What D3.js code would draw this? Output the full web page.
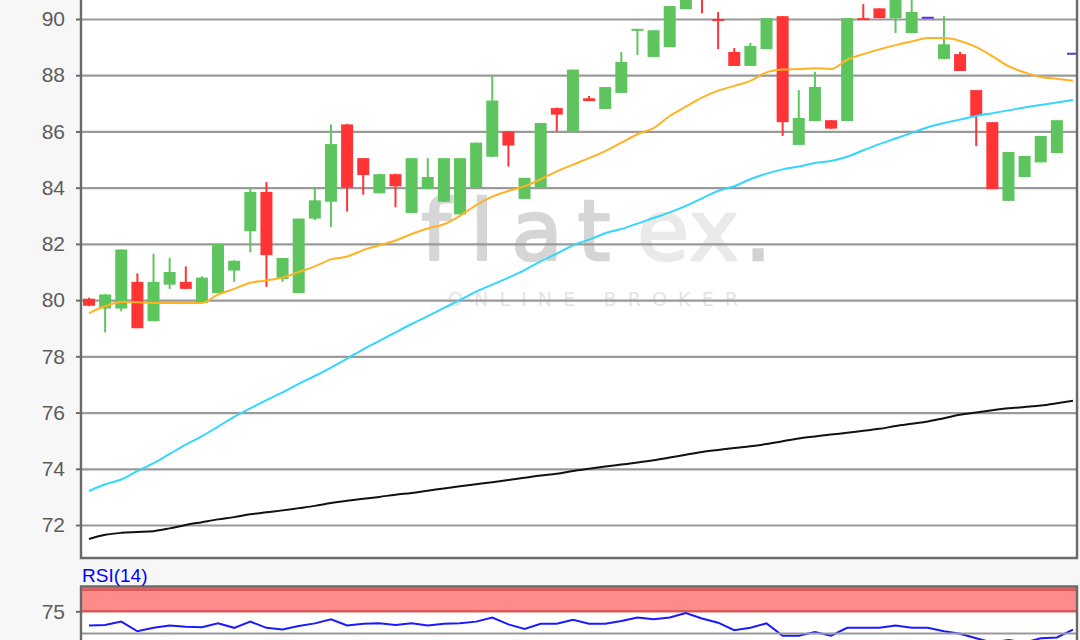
<!DOCTYPE html>
<html><head><meta charset="utf-8">
<script src="https://cdn.jsdelivr.net/npm/d3@7"></script>
<style>html,body{margin:0;padding:0;background:#f7f7f7;} svg{display:block;}</style>
</head><body>
<svg id="c" width="1080" height="640"></svg>
<script>
// ---- data ----
const opens  = [80.05,79.7,79.7,80.65,79.25,80.55,80.65,79.9,80.25,81.05,82.45,83.85,80.75,80.25,82.9,83.5,86.25,85.05,83.8,84.48,83.1,83.95,83.5,83.05,84.0,85.1,86.0,83.6,84.0,86.83,86.0,87.18,86.8,87.37,89.6,88.65,89.0,90.35,91.1,90.0,88.83,88.33,88.93,90.1,85.52,86.37,86.4,86.37,90.03,90.38,90.03,89.5,90.08,88.58,88.75,87.47,86.33,83.53,84.38,84.9,85.23,88.8];
const highs  = [80.08,80.22,81.8,80.95,81.65,81.5,81.2,80.85,82.0,81.42,84.0,84.2,81.5,82.9,84.0,86.25,86.27,85.05,84.5,84.5,85.05,85.05,85.05,85.05,85.6,88.0,86.0,84.35,86.3,86.85,88.2,87.26,87.58,88.83,89.65,89.6,90.46,90.95,91.2,90.25,88.97,89.15,90.03,90.1,87.47,88.12,86.4,90.03,90.53,90.38,90.8,90.8,90.08,90.1,88.83,87.47,86.33,85.27,85.13,85.84,86.4,88.8];
const lows   = [79.78,78.85,79.6,79.0,79.25,80.4,80.4,79.88,80.25,80.65,81.7,80.47,80.65,80.25,82.85,82.6,83.15,83.75,83.8,83.3,83.1,83.95,83.5,83.05,84.0,85.1,84.75,83.6,84.0,86.0,86.0,87.08,86.8,87.37,88.72,88.65,89.0,90.35,90.2,88.93,88.33,88.33,88.93,85.84,85.52,86.37,86.1,86.37,90.0,90.03,89.5,89.5,90.08,88.58,88.15,85.48,83.95,83.53,84.38,84.9,85.23,88.8];
const closes = [79.8,80.2,81.8,79.0,80.65,81.0,80.4,80.8,82.0,81.4,83.85,81.6,81.5,82.9,83.55,85.55,84.0,84.45,84.48,84.05,85.05,84.38,85.05,85.05,85.6,87.1,85.5,84.35,86.3,86.6,88.2,87.08,87.58,88.47,89.65,89.6,90.46,90.9,90.75,89.93,88.33,89.04,90.03,86.33,86.48,87.58,86.1,90.03,90.0,90.03,90.8,90.25,90.08,89.1,88.15,86.55,83.95,85.27,85.13,85.84,86.4,88.8];
const maShort = [79.54,79.78,79.93,79.92,79.9,79.9,79.9,79.9,80.2,80.4,80.62,80.7,80.8,81.0,81.2,81.45,81.55,81.78,81.95,82.12,82.35,82.55,82.7,83.0,83.38,83.68,83.88,84.05,84.3,84.58,84.82,85.05,85.3,85.6,85.9,86.12,86.55,86.88,87.2,87.45,87.62,87.8,88.1,88.2,88.22,88.25,88.22,88.55,88.75,88.92,89.07,89.2,89.32,89.32,89.22,89.0,88.68,88.32,88.1,87.94,87.87,87.8];
const maMid = [73.21,73.45,73.62,73.92,74.2,74.53,74.86,75.16,75.5,75.85,76.15,76.44,76.72,77.02,77.3,77.6,77.92,78.25,78.55,78.85,79.15,79.43,79.72,80.0,80.3,80.55,80.8,81.07,81.38,81.65,81.95,82.15,82.38,82.53,82.72,82.92,83.12,83.35,83.62,83.88,84.05,84.3,84.5,84.65,84.75,84.88,84.95,85.1,85.33,85.55,85.75,85.95,86.15,86.3,86.42,86.55,86.65,86.75,86.85,86.94,87.03,87.12];
const maLong = [71.5,71.65,71.72,71.75,71.78,71.88,72.0,72.1,72.2,72.28,72.38,72.45,72.52,72.6,72.68,72.78,72.86,72.93,73.0,73.08,73.14,73.22,73.3,73.38,73.45,73.52,73.6,73.68,73.76,73.82,73.92,74.0,74.08,74.15,74.22,74.3,74.4,74.5,74.6,74.67,74.74,74.8,74.88,74.98,75.08,75.15,75.22,75.28,75.35,75.42,75.52,75.6,75.68,75.8,75.92,76.0,76.08,76.15,76.2,76.25,76.33,76.42];
const rsiValues = [71.75,71.83,72.62,70.40,71.19,71.75,71.43,71.35,72.22,71.19,72.62,71.19,70.79,71.59,72.22,73.17,71.75,72.14,72.22,71.83,72.22,71.75,72.14,72.22,72.62,73.57,71.98,70.95,72.14,72.14,73.02,72.14,72.14,72.78,73.57,73.17,73.57,74.60,73.33,72.38,70.63,71.19,72.22,69.37,69.37,70.24,69.37,71.19,71.19,71.19,71.75,71.19,71.19,70.40,69.84,68.81,67.78,68.41,67.78,68.81,68.97,70.79];
const priceTicks = [72,74,76,78,80,82,84,86,88,90];
const rsiTicks = [75];
const rsiBand = [75,80];
const rsiGrid = [70];

// ---- layout ----
const svg = d3.select('#c');
const L = 81, R = 1077;
const mainTop = -20, mainBottom = 558;
const rsiTop = 586.5, rsiBottom = 680;
const x = d3.scaleLinear().domain([0, 61]).range([89, 1073]);
const y = d3.scaleLinear().domain([72, 90]).range([525, 19]);
const yr = d3.scaleLinear().domain([70, 75]).range([633, 611.3]);
const idx = d3.range(opens.length);

const defs = svg.append('defs');
defs.append('clipPath').attr('id','clipMain').append('rect')
  .attr('x',L).attr('y',mainTop).attr('width',R-L).attr('height',mainBottom-mainTop);
defs.append('clipPath').attr('id','clipRsi').append('rect')
  .attr('x',L).attr('y',rsiTop).attr('width',R-L).attr('height',rsiBottom-rsiTop);

svg.append('rect').attr('width',1080).attr('height',640).attr('fill','#f7f7f7');
svg.append('rect').attr('x',L).attr('y',mainTop).attr('width',R-L).attr('height',mainBottom-mainTop).attr('fill','#fff');
svg.append('rect').attr('x',L).attr('y',rsiTop).attr('width',R-L).attr('height',rsiBottom-rsiTop).attr('fill','#fff');

// watermark
const wm = svg.append('g').attr('clip-path','url(#clipMain)');
const wt = wm.append('text').attr('y',260).attr('font-family','DejaVu Sans').attr('font-size',84)
  .attr('text-anchor','middle').attr('stroke-width',2.5).attr('stroke-linejoin','round');
[['f',436,'#d6d6d6'],['l',482,'#d6d6d6'],['a',537,'#d6d6d6'],['t',594,'#d6d6d6'],['e',663,'#eaeaea'],['x',714,'#eaeaea']]
  .forEach(([ch,cx,col]) => wt.append('tspan').attr('x',cx).attr('fill',col).attr('stroke',col).text(ch));
wm.append('text').attr('x',758).attr('y',260).attr('font-family','DejaVu Sans').attr('font-size',84)
  .attr('text-anchor','middle').attr('fill','#d2d2d2').attr('stroke','#d2d2d2').attr('stroke-width',2.5).text('.');
wm.append('text').attr('x',448).attr('y',306).attr('font-family','DejaVu Sans').attr('font-size',19)
  .attr('fill','#e4e4e4').attr('textLength',290).attr('lengthAdjust','spacing').text('ONLINE BROKER');

// grid main
const gGrid = svg.append('g').attr('transform',`translate(${L},0)`)
  .call(d3.axisLeft(y).tickValues(priceTicks).tickSize(-(R-L)).tickFormat(''));
gGrid.select('.domain').remove();
gGrid.selectAll('line').attr('stroke','#9a9a9a').attr('stroke-width',2.2);

// rsi band + grid
const gr = svg.append('g').attr('clip-path','url(#clipRsi)');
gr.append('rect').attr('x',L).attr('width',R-L).attr('y',yr(rsiBand[1])-3).attr('height',yr(rsiBand[0])-yr(rsiBand[1])+3).attr('fill','#ff8a8a');
rsiBand.forEach(v => gr.append('line').attr('x1',L).attr('x2',R).attr('y1',yr(v)).attr('y2',yr(v)).attr('stroke','#d95a5a').attr('stroke-width',2.6));
const gRG = svg.append('g').attr('transform',`translate(${L},0)`)
  .call(d3.axisLeft(yr).tickValues(rsiGrid).tickSize(-(R-L)).tickFormat(''));
gRG.select('.domain').remove();
gRG.selectAll('line').attr('stroke','#9a9a9a').attr('stroke-width',2.2);

// candles
const gC = svg.append('g').attr('clip-path','url(#clipMain)');
const colorOf = i => closes[i] > opens[i] ? '#5ec55e' : (closes[i] < opens[i] ? '#ff3434' : '#5a30d8');
const bw = 12;
gC.selectAll('line.wick').data(idx).join('line')
  .attr('x1',i=>x(i)).attr('x2',i=>x(i)).attr('y1',i=>y(highs[i])).attr('y2',i=>y(lows[i]))
  .attr('stroke',colorOf).attr('stroke-width',2);
gC.selectAll('rect.body').data(idx).join('rect')
  .attr('x',i=>x(i)-bw/2).attr('width',bw)
  .attr('y',i=>y(Math.max(opens[i],closes[i])))
  .attr('height',i=>Math.max(2, Math.abs(y(opens[i])-y(closes[i]))))
  .attr('fill',colorOf);

// moving averages
const line = arr => d3.line().x((d,i)=>x(i)).y(d=>y(d)).curve(d3.curveMonotoneX)(arr);
gC.append('path').attr('d',line(maLong)).attr('fill','none').attr('stroke','#111').attr('stroke-width',2);
gC.append('path').attr('d',line(maMid)).attr('fill','none').attr('stroke','#33d6ff').attr('stroke-width',2);
gC.append('path').attr('d',line(maShort)).attr('fill','none').attr('stroke','#ffb224').attr('stroke-width',2);

// rsi line
gr.append('path').attr('d', d3.line().x((d,i)=>x(i)).y(d=>yr(d))(rsiValues))
  .attr('fill','none').attr('stroke','#1a1aff').attr('stroke-width',2);

// frames
const frame = svg.append('g').attr('fill','none').attr('stroke','#6a6a6a').attr('stroke-width',2.4);
frame.append('path').attr('d',`M${L},${mainTop}V${mainBottom}H${R}V${mainTop}`);
frame.append('path').attr('d',`M${L},${rsiBottom}V${rsiTop}H${R}V${rsiBottom}`);

// axes labels
const ax = svg.append('g').attr('transform',`translate(${L},0)`)
  .call(d3.axisLeft(y).tickValues(priceTicks).tickSize(5).tickPadding(11).tickFormat(d3.format('d')));
const axr = svg.append('g').attr('transform',`translate(${L},0)`)
  .call(d3.axisLeft(yr).tickValues(rsiTicks).tickSize(5).tickPadding(11).tickFormat(d3.format('d')));
[ax, axr].forEach(g => {
  g.select('.domain').remove();
  g.selectAll('line').attr('stroke','#6a6a6a').attr('stroke-width',2);
  g.selectAll('text').attr('font-family','Liberation Sans, Arial, sans-serif').attr('font-size',21).attr('fill','#5c5c5c');
});

svg.append('text').attr('x',82).attr('y',582).attr('font-family','Liberation Sans, Arial, sans-serif')
  .attr('font-size',19).attr('fill','#0000ff').text('RSI(14)');
</script>
</body></html>
